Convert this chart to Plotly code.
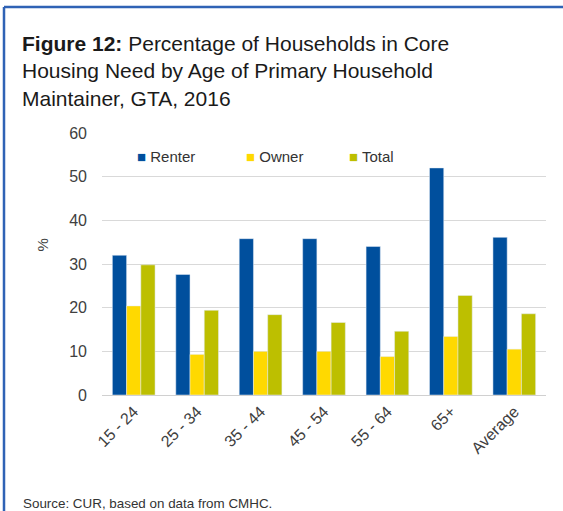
import plotly.graph_objects as go

# Share of households in core housing need, by age of primary maintainer (GTA, 2016)
age_groups = ["15 - 24", "25 - 34", "35 - 44", "45 - 54", "55 - 64", "65+", "Average"]
renter = [32.0, 27.6, 35.8, 35.8, 34.0, 52.0, 36.1]
owner = [20.4, 9.3, 10.0, 10.0, 8.8, 13.4, 10.5]
total = [29.8, 19.4, 18.4, 16.6, 14.6, 22.8, 18.6]
y_ticks = [0, 10, 20, 30, 40, 50, 60]

series_names = ["Renter", "Owner", "Total"]
series_colors = ["#004f9d", "#ffd900", "#bdbf00"]

W, H = 563, 511
L, R, T, B = 102, 17, 133, 116
PW, PH = W - L - R, H - T - B

FONT = "Liberation Sans, Arial, sans-serif"
BORDER = "#2f62b5"


def px_x(px):
    return (px - L) / PW


def px_y(py):
    return (H - B - py) / PH


fig = go.Figure()
for name, vals, color in zip(series_names, [renter, owner, total], series_colors):
    fig.add_trace(go.Bar(name=name, x=age_groups, y=vals, marker_color=color))

fig.update_layout(
    width=W,
    height=H,
    margin=dict(l=L, r=R, t=T, b=B, pad=0),
    paper_bgcolor="white",
    plot_bgcolor="white",
    font=dict(family=FONT, color="#404040"),
    barmode="group",
    bargap=0.327,
    bargroupgap=0,
    showlegend=False,
    title=dict(
        text=("<b>Figure 12:</b> Percentage of Households in Core<br>"
              "Housing Need by Age of Primary Household<br>"
              "Maintainer, GTA, 2016"),
        xref="container",
        yref="container",
        x=22 / W,
        y=1 - 51 / H,
        xanchor="left",
        yanchor="top",
        font=dict(size=21, color="#1a1a1a", family=FONT),
    ),
)

fig.update_xaxes(
    showgrid=False,
    showline=True,
    linecolor="#d0d0d0",
    linewidth=1,
    ticks="",
    tickangle=-45,
    tickfont=dict(size=16, color="#404040"),
)
fig.update_yaxes(
    range=[0, 60],
    tickvals=y_ticks,
    showgrid=True,
    gridcolor="#d9d9d9",
    gridwidth=1,
    zeroline=False,
    showline=False,
    ticks="",
    ticklabelstandoff=14,
    tickfont=dict(size=16, color="#404040"),
)

# Legend row: small colour square followed by the series name
legend_x = [135, 244, 347]
for name, color, lx in zip(series_names, series_colors, legend_x):
    fig.add_annotation(
        text=f"<span style='color:{color}'>■</span> {name}",
        xref="paper", yref="paper",
        x=px_x(lx), y=px_y(156), xanchor="left", yanchor="middle",
        showarrow=False, font=dict(size=15, color="#333333"),
    )

# Axis title for the value axis
fig.add_annotation(
    text="%", xref="paper", yref="paper",
    x=px_x(31), y=px_y(245), textangle=-90,
    showarrow=False, font=dict(size=15, color="#404040"),
)

# Source note
fig.add_annotation(
    text="Source: CUR, based on data from CMHC.", xref="paper", yref="paper",
    x=px_x(21), y=px_y(503), xanchor="left", yanchor="middle",
    showarrow=False, font=dict(size=13.4, color="#333333"),
)

# Frame along the top and left edges
fig.add_shape(type="line", xref="paper", yref="paper",
              x0=px_x(4), x1=px_x(W + 2), y0=px_y(7), y1=px_y(7),
              line=dict(color=BORDER, width=2.5))
fig.add_shape(type="line", xref="paper", yref="paper",
              x0=px_x(4), x1=px_x(4), y0=px_y(7), y1=px_y(H + 2),
              line=dict(color=BORDER, width=2.5))

fig.write_html("out.html")
